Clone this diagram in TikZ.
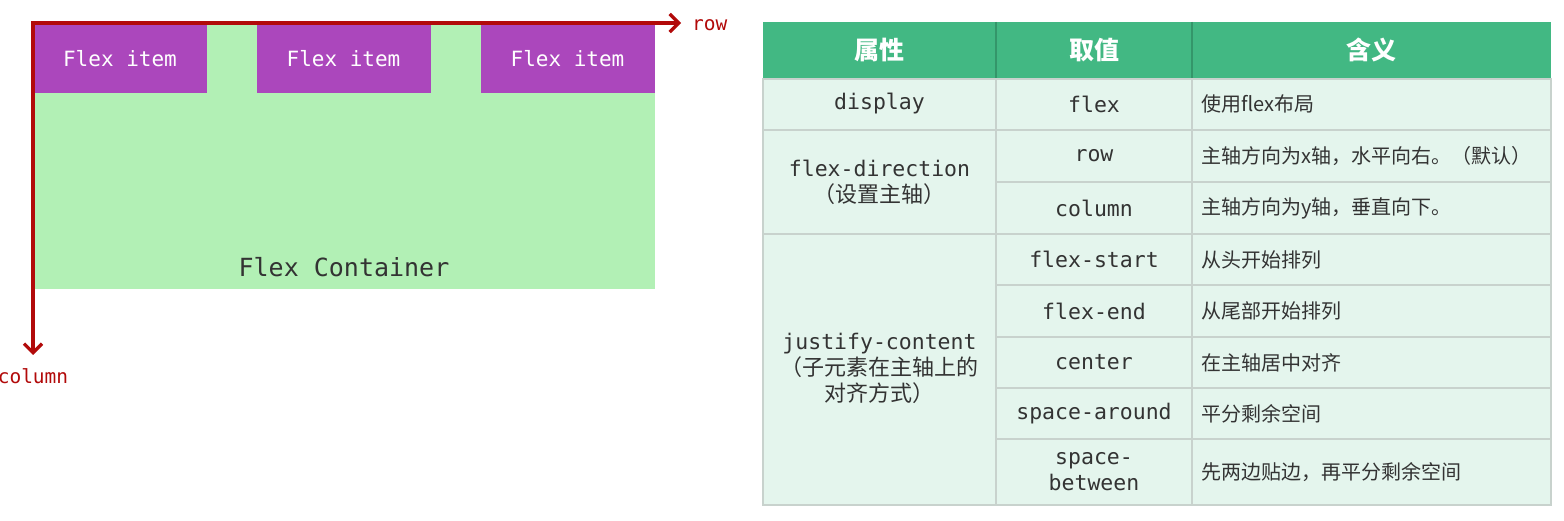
\documentclass[tikz,border=0pt]{standalone}
\usepackage{fontspec}
\setmonofont{DejaVu Sans Mono}
\newfontfamily\cjk{Noto Sans CJK SC}
\usetikzlibrary{arrows.meta}
\definecolor{contgreen}{RGB}{178,240,181}
\definecolor{itempurple}{RGB}{171,71,188}
\definecolor{axisred}{RGB}{178,10,10}
\definecolor{headgreen}{RGB}{66,184,131}
\definecolor{headline}{RGB}{52,150,106}
\definecolor{bodybg}{RGB}{228,245,237}
\definecolor{gridgray}{RGB}{200,210,205}
\definecolor{txt}{RGB}{51,51,51}
\tikzset{
  itembox/.style={fill=itempurple, text=white, minimum width=174pt, minimum height=69pt, inner sep=0pt, font=\fontsize{21}{24}\selectfont\ttfamily},
  conttext/.style={text=txt, font=\fontsize{25}{28}\selectfont\ttfamily},
  axisarrow/.style={draw=axisred, line width=3.3pt, -{Straight Barb[length=9pt,width=18pt]}},
  axislabel/.style={text=axisred, font=\fontsize{19.5}{22}\selectfont\ttfamily, inner sep=0pt},
  headtext/.style={text=white, font=\fontsize{25}{28}\selectfont\cjk\bfseries},
  codetext/.style={text=txt, align=center, font=\fontsize{21.5}{26}\selectfont\ttfamily},
  zhtext/.style={text=txt, anchor=west, inner sep=0pt, font=\fontsize{20}{22}\selectfont\cjk},
  gridline/.style={draw=gridgray, line width=1.2pt},
}
\newcommand{\zhcell}{\cjk\fontsize{22}{26}\selectfont}
\begin{document}
\begin{tikzpicture}[x=1pt,y=-1pt]
\useasboundingbox (0,0) rectangle (1564,521);
\fill[white] (0,0) rectangle (1564,521);
% ---- flex container ----
\fill[contgreen] (33,24) rectangle (655,289);
\node[itembox] (i1) at (120,58.5) {Flex item};
\node[itembox] (i2) at (343.5,58.5) {Flex item};
\node[itembox] (i3) at (567.5,58.5) {Flex item};
\node[conttext] (ct) at (344,267) {Flex Container};
\coordinate (o) at (31.5,23);
\coordinate (otop) at (33,21.5);
\coordinate (rowend) at (681,23);
\coordinate (colend) at (33,355);
\draw[axisarrow] (o) -- (rowend);
\draw[axisarrow] (otop) -- (colend);
\node[axislabel, anchor=west] (rowlbl) at (692,25) {row};
\node[axislabel] (collbl) at (33,376) {column};
% ---- table ----
\fill[headgreen] (763,22) rectangle (1551,79);
\fill[bodybg] (763,79) rectangle (1551,505);
\draw[headline, line width=1.2pt] (996,22) -- (996,79) (1192,22) -- (1192,79);
\draw[gridline] (763,79) rectangle (1551,505);
\draw[gridline] (996,79) -- (996,505) (1192,79) -- (1192,505);
\draw[gridline] (763,130) -- (1551,130) (763,234) -- (1551,234);
\draw[gridline] (996,182) -- (1551,182);
\draw[gridline] (996,285) -- (1551,285) (996,337) -- (1551,337)
                (996,388) -- (1551,388) (996,439) -- (1551,439);
% header
\node[headtext] (h1) at (879.5,50) {属性};
\node[headtext] (h2) at (1094,50) {取值};
\node[headtext] (h3) at (1371.5,50) {含义};
% column 1
\node[codetext] (p1) at (879.5,104) {display};
\node[codetext] (p2) at (879.5,182) {flex-direction\\{\zhcell （设置主轴）}};
\node[codetext] (p3) at (879.5,368) {justify-content\\{\zhcell （子元素在主轴上的}\\{\zhcell 对齐方式）}};
% column 2
\node[codetext] (v1) at (1094,104) {flex};
\node[codetext] (v2) at (1094,156) {row};
\node[codetext] (v3) at (1094,208) {column};
\node[codetext] (v4) at (1094,259.5) {flex-start};
\node[codetext] (v5) at (1094,311) {flex-end};
\node[codetext] (v6) at (1094,362.5) {center};
\node[codetext] (v7) at (1094,413.5) {space-around};
\node[codetext] (v8) at (1094,472) {space-\\between};
% column 3
\node[zhtext] (m1) at (1201,104) {使用flex布局};
\node[zhtext] (m2) at (1201,156) {主轴方向为x轴，水平向右。（默认）};
\node[zhtext] (m3) at (1201,208) {主轴方向为y轴，垂直向下。};
\node[zhtext] (m4) at (1201,259.5) {从头开始排列};
\node[zhtext] (m5) at (1201,311) {从尾部开始排列};
\node[zhtext] (m6) at (1201,362.5) {在主轴居中对齐};
\node[zhtext] (m7) at (1201,413.5) {平分剩余空间};
\node[zhtext] (m8) at (1201,472) {先两边贴边，再平分剩余空间};
\end{tikzpicture}
\end{document}
